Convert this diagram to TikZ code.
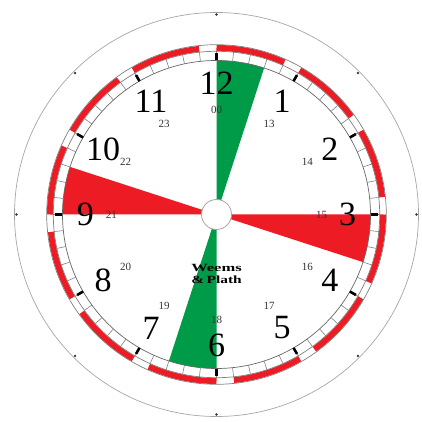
\documentclass[tikz,border=0pt]{standalone}
\usepackage{fontspec}
\setmainfont{Liberation Serif}
\definecolor{clkred}{RGB}{237,28,36}
\definecolor{clkgreen}{RGB}{0,155,72}
\begin{document}
\begin{tikzpicture}[x=1pt,y=1pt,
  hournum/.style={font=\fontsize{34}{34}\selectfont, inner sep=0pt},
  daynum/.style={font=\fontsize{11}{11}\selectfont, text=black!80, inner sep=0pt},
  ringline/.style={draw=black!50, line width=0.7pt},
  minutetick/.style={draw=black!50, line width=0.6pt},
  fivetick/.style={draw=black, line width=2.6pt},
  alarmband/.style={draw=clkred, line width=6pt},
  hub/.style={circle, draw=black!35, fill=white, line width=0.8pt, minimum size=30pt, inner sep=0pt},
  logo/.style={font=\bfseries\fontsize{11}{11}\selectfont, inner sep=0pt}]
\useasboundingbox (-216.5,-207.5) rectangle (204.5,214.5);
% outer bezel
\draw[black!35, line width=0.7pt] (0,0) circle[radius=202pt];
\foreach \a in {0,45,...,315}
  \fill[black!80] (\a:200pt) circle[radius=1.3pt];
% silence sectors
\fill[clkgreen] (0,0) -- (90:154pt) arc[start angle=90, end angle=72, radius=154pt] -- cycle;
\fill[clkgreen] (0,0) -- (-90:154pt) arc[start angle=-90, end angle=-108, radius=154pt] -- cycle;
\fill[clkred] (0,0) -- (0:154pt) arc[start angle=0, end angle=-18, radius=154pt] -- cycle;
\fill[clkred] (0,0) -- (180:154pt) arc[start angle=180, end angle=162, radius=154pt] -- cycle;
% alarm band (4 s red, 1 s gap)
\foreach \k in {0,...,11}
  \draw[alarmband] ({90-30*\k}:166.5pt) arc[start angle={90-30*\k}, end angle={66-30*\k}, radius=166.5pt];
\draw[ringline] (0,0) circle[radius=169.8pt];
\draw[ringline] (0,0) circle[radius=163.2pt];
\draw[ringline, draw=black!60] (0,0) circle[radius=154pt];
% minute track
\foreach \i in {0,...,59}
  \draw[minutetick] (\i*6:154pt) -- (\i*6:163.2pt);
\foreach \i in {0,...,11}
  \draw[fivetick] (\i*30:154pt) -- (\i*30:161pt);
% hub
\node[hub] (hub) at (0,0) {};
% numerals
\foreach \h in {1,...,12}
  \node[hournum] (h\h) at ({90-30*\h}:131pt) {\h};
\foreach \h/\t in {12/00,1/13,2/14,3/15,4/16,5/17,6/18,7/19,8/20,9/21,10/22,11/23}
  \node[daynum] (d\t) at ({90-30*\h}:105pt) {\t};
% maker's mark
\node[logo] (logo1) at (0,-53.5pt) {\scalebox{1.5}[1]{Weems}};
\node[logo] (logo2) at (0,-65.5pt) {\scalebox{1.4}[1]{\&\,Plath}};
\end{tikzpicture}
\end{document}
